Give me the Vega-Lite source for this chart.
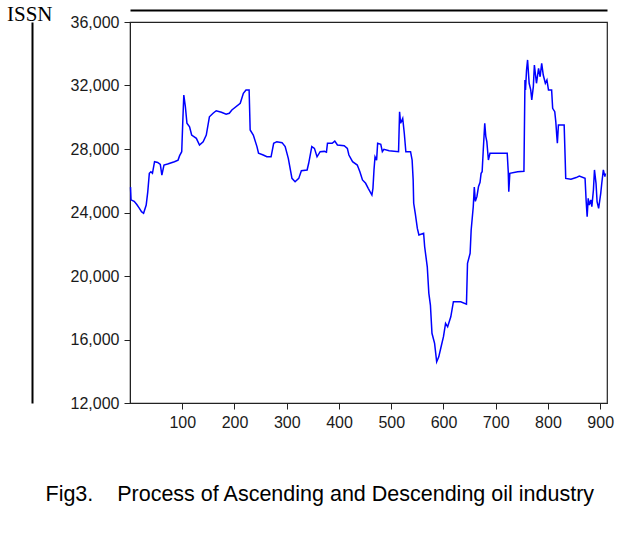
{
  "$schema": "https://vega.github.io/schema/vega-lite/v6.json",
  "width": 477,
  "height": 381,
  "autosize": {"type": "none"},
  "padding": {"left": 130, "top": 22, "right": 35, "bottom": 130},
  "background": "white",
  "title": {
    "text": "ISSN",
    "anchor": "start",
    "frame": "group",
    "font": "Liberation Serif",
    "fontSize": 21,
    "fontWeight": "normal",
    "color": "#000000",
    "baseline": "alphabetic",
    "dx": -123,
    "offset": -32
  },
  "config": {
    "view": {"stroke": "#222222", "strokeWidth": 1.2},
    "axis": {
      "labelFont": "Liberation Sans",
      "labelFontSize": 16,
      "labelColor": "#1a1a1a",
      "domainColor": "#222222",
      "tickColor": "#222222",
      "tickSize": 6,
      "labelPadding": 5,
      "grid": false
    }
  },
  "data": {
    "values": [
      {"obs": 1, "value": 25600}, {"obs": 2, "value": 24800}, {"obs": 5, "value": 24750}, {"obs": 8, "value": 24700},
      {"obs": 13, "value": 24500}, {"obs": 18, "value": 24260}, {"obs": 22, "value": 24050}, {"obs": 26, "value": 23950},
      {"obs": 31, "value": 24470}, {"obs": 34, "value": 25300}, {"obs": 37, "value": 26470}, {"obs": 40, "value": 26570},
      {"obs": 43, "value": 26470}, {"obs": 47, "value": 27200}, {"obs": 53, "value": 27150}, {"obs": 58, "value": 27030},
      {"obs": 61, "value": 26360}, {"obs": 65, "value": 26990}, {"obs": 72, "value": 27050}, {"obs": 85, "value": 27200},
      {"obs": 92, "value": 27300}, {"obs": 95, "value": 27580}, {"obs": 99, "value": 27830}, {"obs": 101, "value": 29700},
      {"obs": 103, "value": 31400}, {"obs": 106, "value": 30660}, {"obs": 109, "value": 29620}, {"obs": 114, "value": 29400},
      {"obs": 118, "value": 28880}, {"obs": 127, "value": 28670}, {"obs": 133, "value": 28250}, {"obs": 140, "value": 28460},
      {"obs": 146, "value": 28880}, {"obs": 152, "value": 30030}, {"obs": 159, "value": 30250}, {"obs": 165, "value": 30410},
      {"obs": 175, "value": 30310}, {"obs": 184, "value": 30190}, {"obs": 190, "value": 30250}, {"obs": 195, "value": 30460},
      {"obs": 211, "value": 30880}, {"obs": 217, "value": 31510}, {"obs": 222, "value": 31720}, {"obs": 228, "value": 31720},
      {"obs": 230, "value": 29200}, {"obs": 236, "value": 28880}, {"obs": 243, "value": 28150}, {"obs": 246, "value": 27730},
      {"obs": 255, "value": 27620}, {"obs": 262, "value": 27510}, {"obs": 270, "value": 27510}, {"obs": 275, "value": 28360},
      {"obs": 281, "value": 28460}, {"obs": 291, "value": 28400}, {"obs": 297, "value": 28150}, {"obs": 303, "value": 27410},
      {"obs": 307, "value": 26680}, {"obs": 310, "value": 26150}, {"obs": 316, "value": 25940}, {"obs": 323, "value": 26150},
      {"obs": 328, "value": 26630}, {"obs": 339, "value": 26680}, {"obs": 342, "value": 27100}, {"obs": 348, "value": 28150},
      {"obs": 353, "value": 28040}, {"obs": 358, "value": 27510}, {"obs": 364, "value": 27830}, {"obs": 372, "value": 27850},
      {"obs": 376, "value": 27800}, {"obs": 378, "value": 28360}, {"obs": 387, "value": 28360}, {"obs": 392, "value": 28500},
      {"obs": 397, "value": 28250}, {"obs": 410, "value": 28210}, {"obs": 416, "value": 28040}, {"obs": 419, "value": 27620},
      {"obs": 426, "value": 27200}, {"obs": 435, "value": 26990}, {"obs": 440, "value": 26570}, {"obs": 445, "value": 26050},
      {"obs": 451, "value": 25840}, {"obs": 456, "value": 25520}, {"obs": 463, "value": 25100}, {"obs": 465, "value": 25520},
      {"obs": 467, "value": 26680}, {"obs": 469, "value": 27510}, {"obs": 472, "value": 27300}, {"obs": 474, "value": 28360},
      {"obs": 480, "value": 28300}, {"obs": 483, "value": 27830}, {"obs": 486, "value": 27980}, {"obs": 496, "value": 27890},
      {"obs": 514, "value": 27830}, {"obs": 516, "value": 30350}, {"obs": 518, "value": 29620}, {"obs": 522, "value": 29930},
      {"obs": 525, "value": 28990}, {"obs": 528, "value": 27830}, {"obs": 537, "value": 27830}, {"obs": 540, "value": 27300},
      {"obs": 542, "value": 26050}, {"obs": 543, "value": 24580}, {"obs": 546, "value": 23950}, {"obs": 550, "value": 23000},
      {"obs": 553, "value": 22580}, {"obs": 562, "value": 22690}, {"obs": 564, "value": 21840}, {"obs": 569, "value": 20580},
      {"obs": 572, "value": 18910}, {"obs": 575, "value": 18170}, {"obs": 578, "value": 16390}, {"obs": 583, "value": 15760},
      {"obs": 587, "value": 14600}, {"obs": 591, "value": 14910}, {"obs": 594, "value": 15340}, {"obs": 600, "value": 16180},
      {"obs": 604, "value": 17020}, {"obs": 608, "value": 16800}, {"obs": 614, "value": 17430}, {"obs": 619, "value": 18380},
      {"obs": 633, "value": 18380}, {"obs": 644, "value": 18230}, {"obs": 646, "value": 20800}, {"obs": 651, "value": 21430},
      {"obs": 653, "value": 22900}, {"obs": 657, "value": 24360}, {"obs": 659, "value": 25600}, {"obs": 661, "value": 24700},
      {"obs": 664, "value": 25000}, {"obs": 667, "value": 25620}, {"obs": 670, "value": 25900}, {"obs": 672, "value": 26470},
      {"obs": 674, "value": 26570}, {"obs": 676, "value": 27830}, {"obs": 679, "value": 29620}, {"obs": 681, "value": 28800},
      {"obs": 683, "value": 28460}, {"obs": 686, "value": 27310}, {"obs": 689, "value": 27730}, {"obs": 722, "value": 27730},
      {"obs": 724, "value": 26570}, {"obs": 725, "value": 25310}, {"obs": 727, "value": 26470}, {"obs": 742, "value": 26570},
      {"obs": 754, "value": 26600}, {"obs": 756, "value": 32350}, {"obs": 757, "value": 31720}, {"obs": 759, "value": 32980},
      {"obs": 761, "value": 33610}, {"obs": 764, "value": 32140}, {"obs": 767, "value": 31720}, {"obs": 769, "value": 31090},
      {"obs": 772, "value": 31930}, {"obs": 774, "value": 33290}, {"obs": 778, "value": 32140}, {"obs": 782, "value": 33080},
      {"obs": 785, "value": 32550}, {"obs": 788, "value": 33400}, {"obs": 791, "value": 32660}, {"obs": 795, "value": 32140},
      {"obs": 798, "value": 32350}, {"obs": 801, "value": 31720}, {"obs": 807, "value": 31720}, {"obs": 809, "value": 30560},
      {"obs": 813, "value": 30350}, {"obs": 815, "value": 29720}, {"obs": 817, "value": 28780}, {"obs": 818, "value": 28360},
      {"obs": 820, "value": 29510}, {"obs": 831, "value": 29510}, {"obs": 833, "value": 27310}, {"obs": 834, "value": 26150},
      {"obs": 844, "value": 26090}, {"obs": 854, "value": 26200}, {"obs": 860, "value": 26300}, {"obs": 871, "value": 26150},
      {"obs": 873, "value": 24790}, {"obs": 875, "value": 23740}, {"obs": 877, "value": 24890}, {"obs": 879, "value": 24470},
      {"obs": 882, "value": 24790}, {"obs": 884, "value": 24370}, {"obs": 887, "value": 25420}, {"obs": 889, "value": 26680},
      {"obs": 892, "value": 25840}, {"obs": 894, "value": 24680}, {"obs": 897, "value": 24260}, {"obs": 901, "value": 25210},
      {"obs": 903, "value": 25840}, {"obs": 906, "value": 26680}, {"obs": 909, "value": 26260}, {"obs": 910, "value": 26470}
    ]
  },
  "layer": [
    {
      "mark": {"type": "line", "color": "#0000ff", "strokeWidth": 1.5},
      "encoding": {
        "x": {
          "field": "obs",
          "type": "quantitative",
          "scale": {"domain": [0, 913], "nice": false, "zero": false},
          "axis": {
            "values": [100, 200, 300, 400, 500, 600, 700, 800, 900],
            "format": "d",
            "title": "Fig3.\u00a0\u00a0\u00a0\u00a0Process of Ascending and Descending oil industry",
            "titleFont": "Liberation Sans",
            "titleFontSize": 21.5,
            "titleFontWeight": "normal",
            "titleColor": "#000000",
            "titleAlign": "left",
            "titleAnchor": "start",
            "titleBaseline": "alphabetic",
            "titleX": -85,
            "titleY": 97
          }
        },
        "y": {
          "field": "value",
          "type": "quantitative",
          "scale": {"domain": [12000, 36000], "nice": false, "zero": false},
          "axis": {
            "values": [12000, 16000, 20000, 24000, 28000, 32000, 36000],
            "format": ",d",
            "title": null
          }
        }
      }
    },
    {
      "mark": {"type": "line", "opacity": 0},
      "encoding": {
        "x": {
          "field": "obs",
          "type": "quantitative",
          "scale": {"domain": [0, 913], "nice": false, "zero": false},
          "axis": {
            "orient": "top",
            "offset": 12,
            "labels": false,
            "ticks": false,
            "domainColor": "#000000",
            "domainWidth": 2,
            "title": null
          }
        },
        "y": {
          "field": "value",
          "type": "quantitative",
          "scale": {"domain": [12000, 36000], "nice": false, "zero": false},
          "axis": {
            "orient": "left",
            "offset": 98,
            "labels": false,
            "ticks": false,
            "domainColor": "#000000",
            "domainWidth": 2,
            "title": null
          }
        }
      }
    }
  ],
  "resolve": {"scale": {"x": "independent", "y": "independent"}, "axis": {"x": "independent", "y": "independent"}}
}
